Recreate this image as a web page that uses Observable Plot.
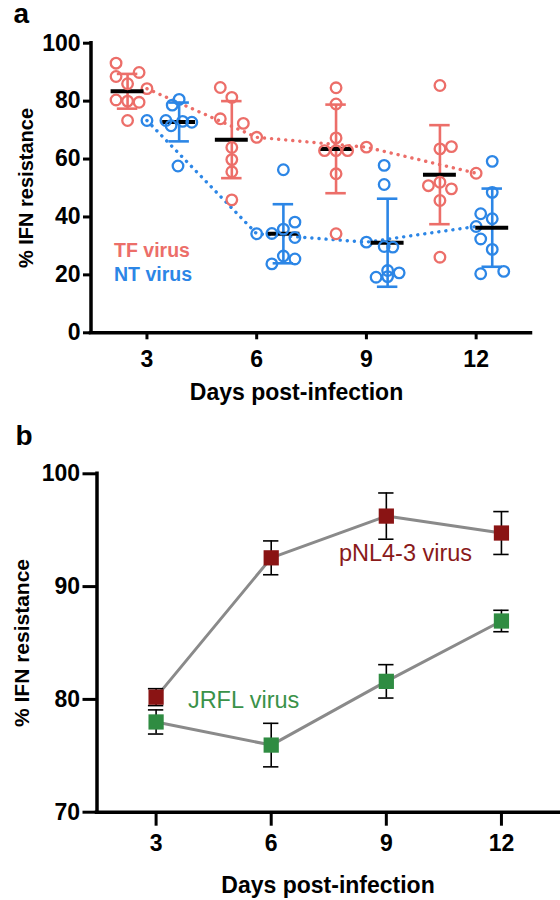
<!DOCTYPE html>
<html>
<head>
<meta charset="utf-8">
<script src="https://cdn.jsdelivr.net/npm/d3@7"></script>
<script src="https://cdn.jsdelivr.net/npm/@observablehq/plot@0.6"></script>
<style>
  html, body { margin: 0; padding: 0; background: #fff; }
  #chart { width: 560px; height: 900px; font-family: "Liberation Sans", Arial, sans-serif; }
  #chart svg { display: block; }
</style>
</head>
<body>
<div id="chart"></div>
<script>
// ---------- shared ----------
const days = [3, 6, 9, 12];
const xTickLabels = ["3", "6", "9", "12"];

// ---------- panel a ----------
const yTicksA = [0, 20, 40, 60, 80, 100];
const tfCenters = [2.47, 5.32, 8.17, 11.01];   // group position on the day axis
const ntCenters = [3.88, 6.73, 9.58, 12.44];
const tfValues = [
  [93.1, 89.9, 88.5, 86.0, 80.4, 80.0, 79.6, 73.3],
  [84.7, 81.3, 73.9, 72.3, 64.0, 59.8, 55.6, 45.9],
  [84.6, 79.0, 67.3, 62.9, 62.9, 62.9, 54.9, 34.2],
  [85.4, 64.3, 63.5, 52.0, 50.8, 49.7, 45.7, 26.1]
];
const tfColumns = [
  [-1, 1, -1, 0, -1, 0, 1, 0],
  [-1, 0, -1, 1, 0, 0, 0, 0],
  [0, 0, 0, -1, 0, 1, 0, 0],
  [0, 1, 0, 0, -1, 1, 0, 0]
];
const ntValues = [
  [80.6, 78.6, 73.3, 73.0, 72.7, 71.5, 57.6],
  [56.3, 38.2, 35.8, 34.3, 32.9, 26.5, 25.5, 23.8],
  [57.8, 51.2, 29.8, 29.6, 21.5, 20.7, 19.2, 19.4],
  [59.2, 48.5, 41.1, 39.4, 32.4, 28.8, 20.4, 21.2]
];
const ntColumns = [
  [0, -0.6, -1.15, 0.3, 1.1, -0.7, -0.1],
  [0, 1, 0, -1, 1, 0, 1, -1],
  [-0.3, -0.3, -0.3, 0.45, 0, 1, -1, 0],
  [0, 0, -1, 0, -1, 0, -1, 1]
];
const tfMean = [83.4, 66.7, 63.5, 54.6];
const tfSD = [6.0, 13.3, 15.3, 17.1];
const ntMean = [72.8, 34.2, 31.1, 36.3];
const ntSD = [6.7, 10.2, 15.2, 13.5];
const tfTrend = [84.3, 67.5, 64.1, 55.1];
const ntTrend = [73.3, 34.2, 31.3, 36.7];
const seriesA = ["TF virus", "NT virus"];

// ---------- panel b ----------
const yTicksB = [70, 80, 90, 100];
const pnlMean = [80.2, 92.55, 96.25, 94.75];
const pnlSD = [0.75, 1.5, 2.05, 1.9];
const jrflMean = [78.0, 75.95, 81.6, 86.95];
const jrflSD = [1.07, 1.93, 1.48, 0.95];
const seriesB = ["pNL4-3 virus", "JRFL virus"];

// ---------- styles ----------
const colorA = {"TF virus": "#ec6e69", "NT virus": "#2c86e6"};
const colorB = {"pNL4-3 virus": "#8a1414", "JRFL virus": "#2f8c42"};
const textColorB = {"pNL4-3 virus": "#8a1a1a", "JRFL virus": "#3a9249"};
const FONT = "Liberation Sans, Arial, sans-serif";
const colStep = 0.315;      // beeswarm column spacing (days)
const meanHalf = 0.45;      // half width of black mean bar (days)
const capHalfA = 0.28;
const capHalfB = 0.2;

// ---------- build tables ----------
function groupPoints(name, values, cols, centers) {
  const out = [];
  values.forEach((arr, i) => arr.forEach((v, j) => out.push({virus: name, x: centers[i] + cols[i][j] * colStep, value: v})));
  return out;
}
const pointsA = [
  ...groupPoints("TF virus", tfValues, tfColumns, tfCenters),
  ...groupPoints("NT virus", ntValues, ntColumns, ntCenters)
];
const summaryA = [
  ...days.map((d, i) => ({virus: "TF virus", x: tfCenters[i], mean: tfMean[i], sd: tfSD[i]})),
  ...days.map((d, i) => ({virus: "NT virus", x: ntCenters[i], mean: ntMean[i], sd: ntSD[i]}))
];
const capsA = summaryA.flatMap(s => [{...s, v: s.mean - s.sd}, {...s, v: s.mean + s.sd}]);
const trendA = [
  ...days.map((d, i) => ({virus: "TF virus", day: d, value: tfTrend[i]})),
  ...days.map((d, i) => ({virus: "NT virus", day: d, value: ntTrend[i]}))
];

const tableB = [
  ...days.map((d, i) => ({virus: "pNL4-3 virus", day: d, mean: pnlMean[i], sd: pnlSD[i]})),
  ...days.map((d, i) => ({virus: "JRFL virus", day: d, mean: jrflMean[i], sd: jrflSD[i]}))
];
const capsB = tableB.flatMap(s => [{...s, v: s.mean - s.sd}, {...s, v: s.mean + s.sd}]);

const baseStyle = {fontFamily: FONT, fontWeight: "bold", fontSize: "23px", color: "black", background: "white", overflow: "visible"};

// ---------- panel a plot ----------
const xMinA = 1.47;
const plotA = Plot.plot({
  width: 560, height: 420,
  marginLeft: 90.5, marginRight: 29.5, marginTop: 42.7, marginBottom: 87.7,
  x: {domain: [xMinA, 13.5]},
  y: {domain: [0, 100]},
  style: baseStyle,
  marks: [
    Plot.axisY({ticks: yTicksA, tickSize: 7.5, tickPadding: 3, strokeWidth: 3, fontSize: 23, label: null}),
    Plot.axisX({ticks: days, tickFormat: (d, i) => xTickLabels[i], tickSize: 7, tickPadding: 11, strokeWidth: 3, fontSize: 23, label: null}),
    Plot.ruleY([0], {strokeWidth: 3.5, strokeLinecap: "square"}),
    Plot.ruleX([xMinA], {strokeWidth: 3.5, strokeLinecap: "square"}),
    // dotted trend lines through the means
    Plot.line(trendA, {x: "day", y: "value", z: "virus", stroke: d => colorA[d.virus], strokeWidth: 3.4, strokeDasharray: "0.1 7", strokeLinecap: "round"}),
    Plot.dot(trendA, {x: "day", y: "value", r: 5.3, stroke: d => colorA[d.virus], strokeWidth: 2.3, fill: "none"}),
    // error bars
    Plot.ruleX(summaryA, {x: "x", y1: d => d.mean - d.sd, y2: d => d.mean + d.sd, stroke: d => colorA[d.virus], strokeWidth: 2.6}),
    Plot.ruleY(capsA, {y: "v", x1: d => d.x - capHalfA, x2: d => d.x + capHalfA, stroke: d => colorA[d.virus], strokeWidth: 2.6}),
    // black mean bars
    Plot.ruleY(summaryA, {y: "mean", x1: d => d.x - meanHalf, x2: d => d.x + meanHalf, stroke: "black", strokeWidth: 4}),
    // individual points
    Plot.dot(pointsA, {x: "x", y: "value", r: 5.3, stroke: d => colorA[d.virus], strokeWidth: 2.3, fill: "none"}),
    // legend labels
    Plot.text(seriesA, {x: 2.1, y: (d, i) => [28.5, 19.9][i], text: d => d, fill: d => colorA[d], textAnchor: "start", lineAnchor: "middle", fontSize: 19.5, fontWeight: "bold"}),
    // axis titles & panel letter
    Plot.text(["Days post-infection"], {frameAnchor: "bottom", dx: -14.5, dy: 60, textAnchor: "middle", lineAnchor: "middle", fontSize: 23, fontWeight: "bold"}),
    Plot.text(["% IFN resistance"], {frameAnchor: "left", dx: -64.5, rotate: -90, textAnchor: "middle", lineAnchor: "middle", fontSize: 20, fontWeight: "bold"}),
    Plot.text(["a"], {frameAnchor: "top-left", dx: -77.5, dy: -39.7, textAnchor: "start", lineAnchor: "top", fontSize: 28, fontWeight: "bold"})
  ]
});

// ---------- panel b plot ----------
const xMinB = 1.46;
const plotB = Plot.plot({
  width: 560, height: 480,
  marginLeft: 96.5, marginRight: 1.5, marginTop: 53.3, marginBottom: 88.3,
  x: {domain: [xMinB, 13.5]},
  y: {domain: [70, 100]},
  style: baseStyle,
  marks: [
    Plot.axisY({ticks: yTicksB, tickSize: 14, tickPadding: 3, strokeWidth: 3, fontSize: 23, label: null}),
    Plot.axisX({ticks: days, tickFormat: (d, i) => xTickLabels[i], tickSize: 14, tickPadding: 8, strokeWidth: 3, fontSize: 23, label: null}),
    Plot.ruleY([70], {strokeWidth: 3.5, strokeLinecap: "square"}),
    Plot.ruleX([xMinB], {strokeWidth: 3.5, strokeLinecap: "square"}),
    Plot.line(tableB, {x: "day", y: "mean", z: "virus", stroke: "#8a8a8a", strokeWidth: 3}),
    Plot.ruleX(tableB, {x: "day", y1: d => d.mean - d.sd, y2: d => d.mean + d.sd, stroke: "black", strokeWidth: 1.6}),
    Plot.ruleY(capsB, {y: "v", x1: d => d.day - capHalfB, x2: d => d.day + capHalfB, stroke: "black", strokeWidth: 1.6}),
    Plot.dot(tableB, {x: "day", y: "mean", symbol: "square", r: 8.6, fill: d => colorB[d.virus], stroke: "none"}),
    Plot.text(seriesB, {x: (d, i) => [9.5, 5.28][i], y: (d, i) => [92.9, 79.9][i], text: d => d, fill: d => textColorB[d], textAnchor: "middle", lineAnchor: "middle", fontSize: 23.5, fontWeight: "normal"}),
    Plot.text(["Days post-infection"], {frameAnchor: "bottom", dy: 73, textAnchor: "middle", lineAnchor: "middle", fontSize: 23, fontWeight: "bold"}),
    Plot.text(["% IFN resistance"], {frameAnchor: "left", dx: -74.5, rotate: -90, textAnchor: "middle", lineAnchor: "middle", fontSize: 21, fontWeight: "bold"}),
    Plot.text(["b"], {frameAnchor: "top-left", dx: -81.5, dy: -48.3, textAnchor: "start", lineAnchor: "top", fontSize: 28, fontWeight: "bold"})
  ]
});

const chart = document.getElementById("chart");
chart.appendChild(plotA);
chart.appendChild(plotB);
</script>
</body>
</html>
